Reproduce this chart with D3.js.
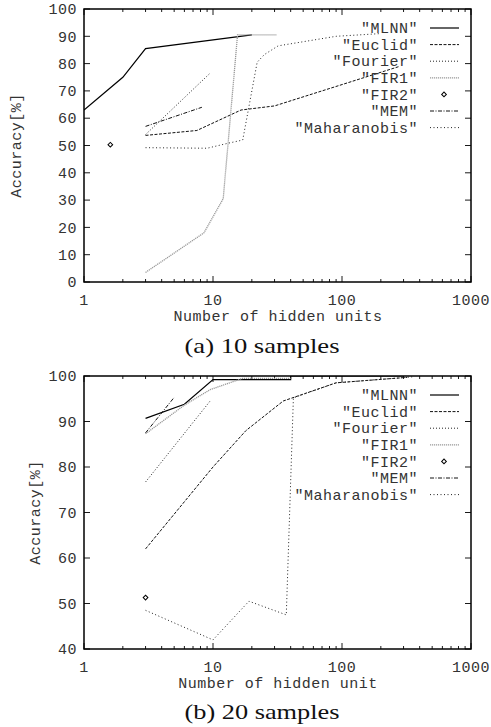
<!DOCTYPE html>
<html><head><meta charset="utf-8">
<script src="https://cdn.jsdelivr.net/npm/d3@7"></script>
<style>
body{margin:0;background:#fff;}
svg{display:block;}
.mono{font-family:"Liberation Mono","DejaVu Sans Mono",monospace;font-size:15px;fill:#333;}
.cap{font-family:"Liberation Serif","DejaVu Serif",serif;font-size:21px;fill:#111;}
</style></head>
<body>
<svg id="c" width="491" height="727"></svg>
<script>
// ---- data (x = hidden units, y = accuracy %) ----
const seriesNames = ["MLNN","Euclid","Fourier","FIR1","FIR2","MEM","Maharanobis"];
const xTickValues = [1,10,100,1000];
const yTicksA = [0,10,20,30,40,50,60,70,80,90,100];
const yTicksB = [40,50,60,70,80,90,100];

// (a) 10 samples
const mlnnA    = [[1,63],[2,75],[3,85.5],[20,90.5]];
const euclidA  = [[3,53.7],[7.5,55.5],[16.5,63],[30,64.5],[280,79]];
const fourierA = [[3,54],[9.5,76.5]];
const fir1A    = [[3,3.5],[8.5,18],[12,30.5],[15.5,90.5],[31,90.5]];
const fir2A    = [[1.6,50.3]];
const memA     = [[3,57],[8.2,64]];
const mahaA    = [[3,49.2],[9,49],[13,50.8],[17,52],[22,80.5],[25,83.3],[32,86.5],[90,90],[200,91]];

// (b) 20 samples
const mlnnB    = [[3,90.7],[6,93.8],[10,99.2],[40,99.2],[40,100],[300,100]];
const euclidB  = [[3,62],[10,80],[18,88],[35,94.5],[90,98.5],[320,99.7]];
const fourierB = [[3,76.7],[9.5,94.5]];
const fir1B    = [[3,87.3],[6,93.6],[9.5,97],[17,99.5],[40,99.5]];
const fir2B    = [[3,51.3]];
const memB     = [[3,87.5],[5,95.3]];
const mahaB    = [[3,48.5],[10,42],[19,50.5],[37,47.5],[42,95.2],[90,98.5],[350,99.8]];

// ---- styles ----
const styles = {
  "MLNN":        {stroke:"#000", width:1.2, dash:null},
  "Euclid":      {stroke:"#111", width:1, dash:"3,1.5"},
  "Fourier":     {stroke:"#222", width:1, dash:"1,2"},
  "FIR1":        {stroke:"#999", width:1.3, dash:"1.2,0.8"},
  "FIR2":        {point:true},
  "MEM":         {stroke:"#111", width:1, dash:"4,1.5,1,1.5"},
  "Maharanobis": {stroke:"#222", width:1, dash:"1,2.5"}
};

const svg = d3.select("#c");

function drawChart(cfg){
  const g = svg.append("g");
  const x = d3.scaleLog().domain([1,1000]).range([84,471]);
  const y = d3.scaleLinear().domain(cfg.yDomain).range([cfg.bottom, cfg.top]);

  const cid = "clip"+cfg.id;
  svg.append("clipPath").attr("id",cid).append("rect")
    .attr("x",84).attr("y",cfg.top).attr("width",471-84).attr("height",cfg.bottom-cfg.top);

  // ticks (inside, all four sides)
  const minor = [];
  for (let d=1; d<1000; d*=10) for (let k=2;k<=9;k++) minor.push(d*k);
  const tk = g.append("g").attr("stroke","#000").attr("stroke-width",0.9);
  minor.forEach(v=>{
    tk.append("line").attr("x1",x(v)).attr("x2",x(v)).attr("y1",cfg.bottom).attr("y2",cfg.bottom-3);
    tk.append("line").attr("x1",x(v)).attr("x2",x(v)).attr("y1",cfg.top).attr("y2",cfg.top+3);
  });
  xTickValues.forEach(v=>{
    tk.append("line").attr("x1",x(v)).attr("x2",x(v)).attr("y1",cfg.bottom).attr("y2",cfg.bottom-6);
    tk.append("line").attr("x1",x(v)).attr("x2",x(v)).attr("y1",cfg.top).attr("y2",cfg.top+6);
  });
  cfg.yTicks.forEach(v=>{
    tk.append("line").attr("x1",84).attr("x2",90).attr("y1",y(v)).attr("y2",y(v));
    tk.append("line").attr("x1",471).attr("x2",465).attr("y1",y(v)).attr("y2",y(v));
  });

  // tick labels
  g.selectAll(".yl").data(cfg.yTicks).enter().append("text").attr("class","mono")
    .attr("x",77).attr("y",v=>y(v)).attr("dy","0.35em").attr("text-anchor","end")
    .attr("letter-spacing","0.5").text(d=>d);
  g.selectAll(".xl").data(xTickValues).enter().append("text").attr("class","mono")
    .attr("x",v=>x(v)).attr("y",cfg.bottom+18).attr("dy","0.35em").attr("text-anchor","middle")
    .attr("letter-spacing","0.5").text(d=>d);

  // axis labels
  g.append("text").attr("class","mono").attr("text-anchor","middle").attr("letter-spacing","0.5")
    .attr("x",278).attr("y",cfg.bottom+34).attr("dy","0.35em").text(cfg.xLabel);
  g.append("text").attr("class","mono").attr("text-anchor","middle").attr("letter-spacing","0.5")
    .attr("transform",`translate(${cfg.yLabelX},${(cfg.top+cfg.bottom)/2}) rotate(-90)`)
    .attr("dy","0.35em").text("Accuracy[%]");
  g.append("text").attr("class","cap").attr("text-anchor","middle")
    .attr("x",262).attr("y",cfg.bottom+cfg.capOff).attr("dy","0.35em")
    .attr("textLength",155).attr("lengthAdjust","spacingAndGlyphs").text(cfg.caption);

  // series
  const line = d3.line().x(d=>x(d[0])).y(d=>y(d[1]));
  const plot = g.append("g").attr("clip-path",`url(#${cid})`);
  cfg.series.forEach((data,i)=>{
    const name = seriesNames[i], st = styles[name];
    if (st.point){
      plot.selectAll(null).data(data).enter().append("path")
        .attr("d", d3.symbol(d3.symbolSquare, 11)())
        .attr("transform", d=>`translate(${x(d[0])},${y(d[1])}) rotate(45)`)
        .attr("fill","#fff").attr("stroke","#000").attr("stroke-width",1);
    } else {
      plot.append("path").datum(data).attr("d",line).attr("fill","none")
        .attr("stroke",st.stroke).attr("stroke-width",st.width)
        .attr("stroke-dasharray",st.dash);
    }
  });

  // legend
  const lg = g.append("g");
  seriesNames.forEach((name,i)=>{
    const ly = cfg.top + 19 + i*16.6;
    lg.append("text").attr("class","mono").attr("text-anchor","end").attr("letter-spacing","0.5")
      .attr("x",418).attr("y",ly).attr("dy","0.35em").text(`"${name}"`);
    const st = styles[name];
    if (st.point){
      lg.append("path").attr("d", d3.symbol(d3.symbolSquare, 11)())
        .attr("transform",`translate(444,${ly}) rotate(45)`)
        .attr("fill","#fff").attr("stroke","#000").attr("stroke-width",1);
    } else {
      lg.append("line").attr("x1",430).attr("x2",459).attr("y1",ly).attr("y2",ly)
        .attr("stroke",st.stroke).attr("stroke-width",st.width).attr("stroke-dasharray",st.dash);
    }
  });

  // border
  g.append("rect").attr("x",84).attr("y",cfg.top).attr("width",471-84).attr("height",cfg.bottom-cfg.top)
    .attr("fill","none").attr("stroke","#000").attr("stroke-width",1.5);
}

drawChart({id:"a", top:9, bottom:282, yDomain:[0,100], yTicks:yTicksA,
  xLabel:"Number of hidden units", yLabelX:16, caption:"(a) 10 samples", capOff:64,
  series:[mlnnA,euclidA,fourierA,fir1A,fir2A,memA,mahaA]});
drawChart({id:"b", top:376, bottom:649, yDomain:[40,100], yTicks:yTicksB,
  xLabel:"Number of hidden unit", yLabelX:35, caption:"(b) 20 samples", capOff:63,
  series:[mlnnB,euclidB,fourierB,fir1B,fir2B,memB,mahaB]});
</script>
</body></html>
